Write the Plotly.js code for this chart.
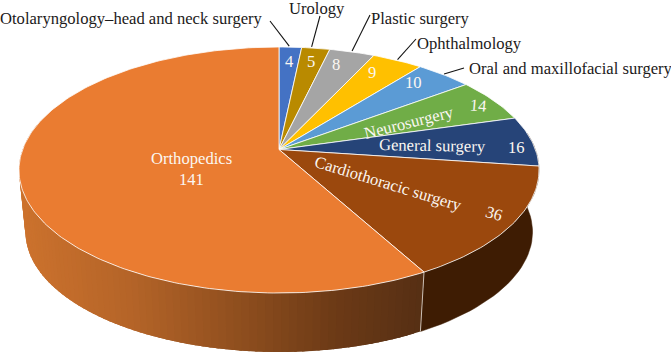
<!DOCTYPE html>
<html><head><meta charset="utf-8">
<script src="https://cdn.plot.ly/plotly-3.0.1.min.js"></script>
<style>html,body{margin:0;padding:0;background:#fff}#chart{width:671px;height:353px}</style>
</head><body><div id="chart"></div>
<script>
// Data
const categories = ["Otolaryngology\u2013head and neck surgery","Urology","Plastic surgery","Ophthalmology","Oral and maxillofacial surgery","Neurosurgery","General surgery","Cardiothoracic surgery","Orthopedics"];
const values = [4,5,8,9,10,14,16,36,141];
const colors = ["#4472c4","#b98a00","#a5a5a5","#ffc000","#5b9bd5","#70ad47","#264478","#9b480d","#ea7c31"];

// Projection of the tilted pie (viewport pixels are the axis units)
const AX=279, AY=149.5, RX=256.4, RY=119.6, P=1/6;
const WALL_SCALE=0.975, RIM_CY=170, WALL_CY=232;
const total = values.reduce((a,b)=>a+b,0);
function rim(deg){const t=deg*Math.PI/180,u=Math.sin(t),v=-Math.cos(t),w=1-P*v;return [AX+RX*u/w,AY+RY*v/w];}
function low(deg){const p=rim(deg);return [AX+WALL_SCALE*(p[0]-AX),WALL_CY+WALL_SCALE*(p[1]-RIM_CY)];}

let cum=0; const starts=[],ends=[];
values.forEach(v=>{starts.push(cum/total*360);cum+=v;ends.push(cum/total*360);});

const traces=[];
function poly(pts,fill,line,w){traces.push({type:'scatter',mode:'lines',x:pts.map(p=>p[0]),y:pts.map(p=>p[1]),fill:'toself',fillcolor:fill,line:{color:line,width:w},hoverinfo:'skip',showlegend:false});}

const iC=7;
// side wall, orthopedics: shaded by horizontal position; strips overlap to hide seams
const shadeX=[20,130,230,336,425], shadeC=[[204,114,45],[180,100,40],[146,80,31],[108,58,22],[86,47,20]];
function shade(x){let i=0;while(i<shadeX.length-2&&x>shadeX[i+1])i++;
 const f=Math.max(0,Math.min(1,(x-shadeX[i])/(shadeX[i+1]-shadeX[i])));
 const c=shadeC[i].map((a,k)=>Math.round(a+(shadeC[i+1][k]-a)*f));return `rgb(${c})`;}
for(let d=ends[iC];d<282;d+=1.5){const e2=Math.min(d+3.5,284);const a=rim(d),b=rim(e2),c=low(e2),e=low(d);const m=rim(d+0.75);const col=shade(m[0]);
 traces.push({type:'scatter',mode:'lines',x:[a[0],b[0],c[0],e[0],a[0]],y:[a[1],b[1],c[1],e[1],a[1]],fill:'toself',fillcolor:col,line:{width:0,color:col},hoverinfo:'skip',showlegend:false});}
// side wall, cardiothoracic
{const top=[],bot=[];for(let d=82;d<=ends[iC]+0.01;d+=2){top.push(rim(d));bot.push(low(d));}
 top.push(rim(ends[iC]));bot.push(low(ends[iC]));
 poly(top.concat(bot.reverse()),'#3e1c03','#3e1c03',0.5);}
// wall divider
{const a=rim(ends[iC]),b=low(ends[iC]);traces.push({type:'scatter',mode:'lines',x:[a[0],b[0]],y:[a[1],b[1]],line:{color:'#e8e0d8',width:0.8},hoverinfo:'skip',showlegend:false});}
// top face
values.forEach((v,i)=>{const pts=[[AX,AY]];const n=Math.max(4,Math.ceil((ends[i]-starts[i])/1));
 for(let k=0;k<=n;k++)pts.push(rim(starts[i]+(ends[i]-starts[i])*k/n));pts.push([AX,AY]);
 poly(pts,colors[i],'#ffffff',0.8);});

// Labels: [text, x, y, angle, anchor, colour]
const WHITE='#fbf7f2',INK='#1c1a1a';
const labels=[
 [categories[0],0,18,0,'left',INK],[categories[1],317,8,0,'center',INK],[categories[2],371,18,0,'left',INK],
 [categories[3],417,43,0,'left',INK],[categories[4],469,68,0,'left',INK],
 [String(values[0]),289,61,0,'center',WHITE],[String(values[1]),311,61,0,'center',WHITE],[String(values[2]),336,64,0,'center',WHITE],
 [String(values[3]),372,72,0,'center',WHITE],[String(values[4]),413,82,0,'center',WHITE],[String(values[5]),478,105,5,'center',WHITE],
 [categories[5],409,122,-14,'center',WHITE],[categories[6],432,145,1,'center',WHITE],[String(values[6]),516,147,0,'center',WHITE],
 [categories[7],388,183,17,'center',WHITE],[String(values[7]),494,213,17,'center',WHITE],
 [categories[8],191,158,0,'center',WHITE],[String(values[8]),191,179,0,'center',WHITE]];
const annotations=labels.map(l=>({text:l[0],x:l[1],y:l[2],xref:'x',yref:'y',showarrow:false,textangle:l[3],xanchor:l[4],yanchor:'middle',
 font:{family:'"Liberation Serif",serif',size:16.6,color:l[5]},borderpad:0,borderwidth:0}));
// Leader lines from each slice's rim to its label
const leaderEnds=[[270,21],[320,16],[370,15],[416,39],[464,68]];
const leaderFrac=[0.45,0.35,0.5,0.5,0.5];
const shapes=leaderEnds.map((e,i)=>{const r=rim(starts[i]+(ends[i]-starts[i])*leaderFrac[i]);
 return {type:'line',xref:'x',yref:'y',x0:e[0],y0:e[1],x1:r[0],y1:r[1]-1,line:{color:'#111',width:1.1}};});

const hidden={visible:false,fixedrange:true};
Plotly.newPlot('chart',traces,{width:671,height:353,margin:{l:0,r:0,t:0,b:0},paper_bgcolor:'#fff',plot_bgcolor:'#fff',showlegend:false,
 xaxis:Object.assign({range:[0,671]},hidden),yaxis:Object.assign({range:[353,0]},hidden),annotations,shapes},{displayModeBar:false,staticPlot:true});
</script></body></html>
